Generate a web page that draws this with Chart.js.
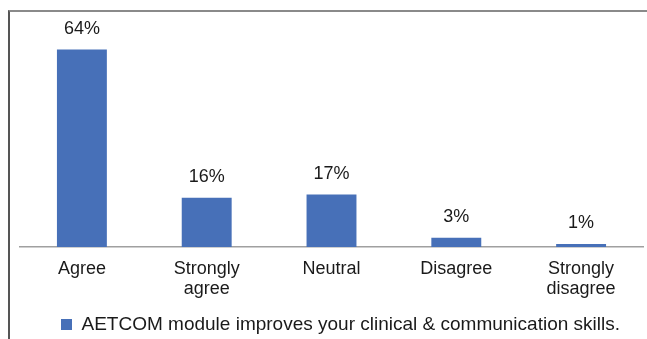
<!DOCTYPE html>
<html>
<head>
<meta charset="utf-8">
<script src="https://cdn.jsdelivr.net/npm/chart.js@4"></script>
<style>
  html, body { margin: 0; padding: 0; background: #fff; }
  #wrap { position: relative; width: 647px; height: 339px; }
  #frame {
    position: absolute; left: 8px; top: 10px; right: 0; bottom: 0;
    border-top: 2px solid #8a8a8a; border-left: 2px solid #555;
  }
  canvas { position: absolute; left: 0; top: 0; }
</style>
</head>
<body>
<div id="wrap">
  <div id="frame"></div>
  <canvas id="chart" width="647" height="339"></canvas>
</div>
<script>
const categories = ["Agree", ["Strongly", "agree"], "Neutral", "Disagree", ["Strongly", "disagree"]];
const values = [64, 16, 17, 3, 1];
const seriesName = "AETCOM module improves your clinical & communication skills.";

const FONT = "'Liberation Sans', Arial, sans-serif";

// draws the "64%" labels above each bar
const valueLabels = {
  id: "valueLabels",
  afterDatasetsDraw(chart) {
    const ctx = chart.ctx;
    const meta = chart.getDatasetMeta(0);
    ctx.save();
    ctx.font = "18px " + FONT;
    ctx.fillStyle = "#1a1a1a";
    ctx.textAlign = "center";
    ctx.textBaseline = "middle";
    meta.data.forEach((bar, i) => {
      ctx.fillText(values[i] + "%", bar.x, bar.y - 20.5);
    });
    ctx.restore();
  }
};

// legend sits a bit right of centre in the original
const legendShift = {
  id: "legendShift",
  afterLayout(chart) {
    chart.legend.left += 9;
    chart.legend.right += 9;
  }
};

new Chart(document.getElementById("chart"), {
  type: "bar",
  data: {
    labels: categories,
    datasets: [{
      label: seriesName,
      data: values,
      backgroundColor: "#4770B8",
      barPercentage: 0.4,
      categoryPercentage: 1
    }]
  },
  options: {
    responsive: false,
    animation: false,
    layout: { padding: { left: 19.5, right: 3.5, top: 31, bottom: -5 } },
    plugins: {
      legend: {
        position: "bottom",
        labels: {
          boxWidth: 11,
          boxHeight: 11,
          padding: 6,
          color: "#1a1a1a",
          font: { family: FONT, size: 19 }
        }
      },
      tooltip: { enabled: false }
    },
    scales: {
      x: {
        grid: { display: false },
        border: { display: true, color: "#a0a0a0", width: 1.5 },
        ticks: {
          color: "#1a1a1a",
          padding: 4,
          maxRotation: 0,
          font: { family: FONT, size: 18, lineHeight: 1.13 }
        },
        afterFit: (scale) => { scale.height = 62; }
      },
      y: {
        display: false,
        min: 0,
        max: 70
      }
    }
  },
  plugins: [valueLabels, legendShift]
});
</script>
</body>
</html>
